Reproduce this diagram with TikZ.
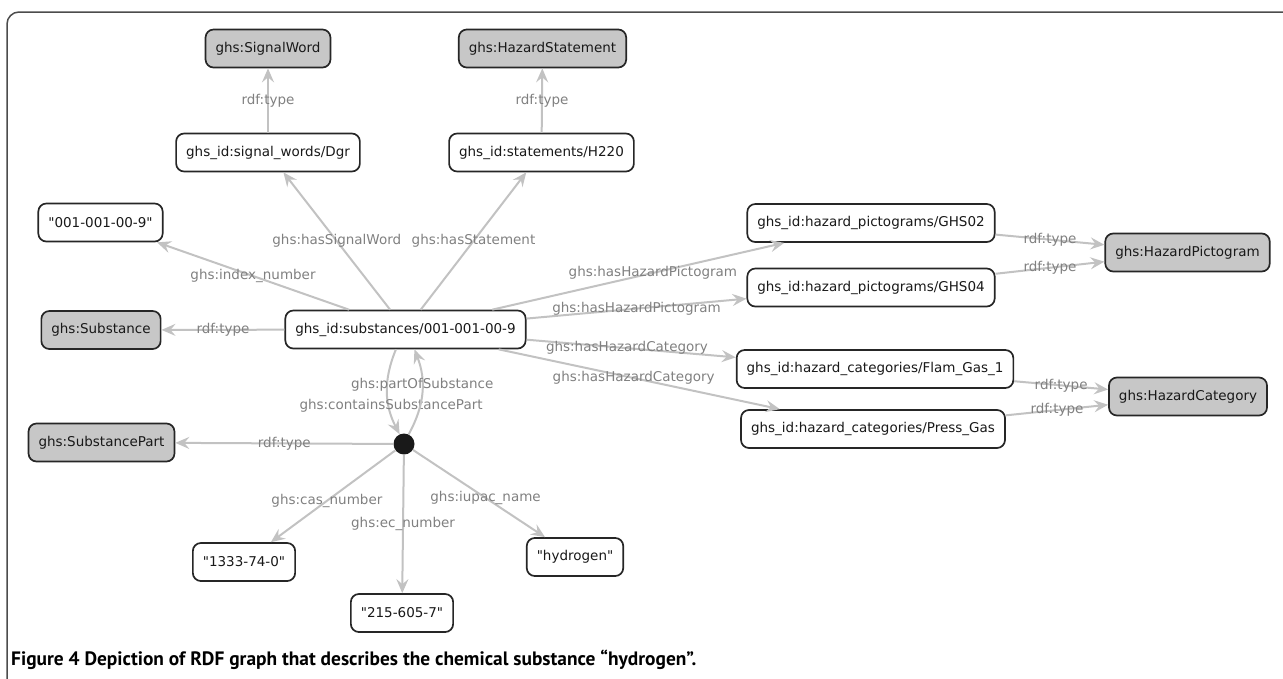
\documentclass[tikz,border=0pt]{standalone}
\usepackage{fontspec}
\newfontfamily\nodefont{DejaVu Sans}
\newfontfamily\capfont{PT Sans}
\usetikzlibrary{arrows.meta}
\begin{document}
\begin{tikzpicture}[x=1pt,y=-1pt,
  every node/.style={font=\nodefont\fontsize{13.5}{16}\selectfont},
  res/.style={draw=black!85, line width=1.7pt, rounded corners=8pt, fill=white,
    minimum height=38pt, inner xsep=10pt, text=black!90},
  cls/.style={res, fill=black!22},
  blank/.style={circle, fill=black!90, minimum size=21pt, inner sep=0pt},
  rel/.style={draw=black!24, line width=2pt,
    -{Stealth[length=14pt,width=12pt,inset=5pt]}},
  lbl/.style={text=black!50, inner sep=1pt}
]
\useasboundingbox (0,0) rectangle (1283,678);

% open frame around the figure
\draw[black!70, line width=1.5pt, rounded corners=12pt] (7,690) -- (7,12) -- (1295,12);

% classes and resources
\node[cls] (sw)      at (268,48.5)  {ghs:SignalWord};
\node[cls] (hs)      at (542.5,48.5) {ghs:HazardStatement};
\node[res] (dgr)     at (268,152.5) {ghs\_id:signal\_words/Dgr};
\node[res] (h220)    at (541.5,152.5) {ghs\_id:statements/H220};
\node[res] (idx)     at (100.5,222.5) {"001-001-00-9"};
\node[cls] (subcls)  at (101,330)   {ghs:Substance};
\node[res] (sub)     at (405.5,329.5) {ghs\_id:substances/001-001-00-9};
\node[cls] (partcls) at (101.5,442.5) {ghs:SubstancePart};
\node[blank] (bn)    at (404,444)   {};
\node[res] (cas)     at (244,562)   {"1333-74-0"};
\node[res] (ec)      at (402,613)   {"215-605-7"};
\node[res] (iupac)   at (575,557)   {"hydrogen"};
\node[res] (p02)     at (871,223)   {ghs\_id:hazard\_pictograms/GHS02};
\node[res] (p04)     at (871,287.5) {ghs\_id:hazard\_pictograms/GHS04};
\node[cls] (pcls)    at (1187.5,252.5) {ghs:HazardPictogram};
\node[res] (flam)    at (875,369)   {ghs\_id:hazard\_categories/Flam\_Gas\_1};
\node[res] (press)   at (873,429)   {ghs\_id:hazard\_categories/Press\_Gas};
\node[cls] (ccls)    at (1188,396.5) {ghs:HazardCategory};

% properties
\draw[rel] (dgr) -- node[lbl] {rdf:type} (sw);
\draw[rel] (h220) -- node[lbl] {rdf:type} (hs);
\draw[rel] (sub) -- node[lbl] {ghs:hasSignalWord} (dgr);
\draw[rel] (sub) -- node[lbl] {ghs:hasStatement} (h220);
\draw[rel] (sub) -- node[lbl] {ghs:index\_number} (idx);
\draw[rel] (sub) -- node[lbl] {rdf:type} (subcls);
\draw[rel] (sub) -- node[lbl, pos=0.55] {ghs:hasHazardPictogram} (p02);
\draw[rel] (sub) -- node[lbl, pos=0.5] {ghs:hasHazardPictogram} (p04);
\draw[rel] (sub) -- node[lbl, pos=0.48] {ghs:hasHazardCategory} (flam);
\draw[rel] (sub) -- node[lbl, pos=0.48] {ghs:hasHazardCategory} (press);
\draw[rel] (p02) -- node[lbl] {rdf:type} (pcls);
\draw[rel] (p04) -- node[lbl] {rdf:type} (pcls);
\draw[rel] (flam) -- node[lbl] {rdf:type} (ccls);
\draw[rel] (press) -- node[lbl] {rdf:type} (ccls);
\draw[rel] (sub) to[bend right=25] node[lbl, pos=0.67, xshift=2pt] {ghs:containsSubstancePart} (bn);
\draw[rel] (bn) to[bend right=25] node[lbl, pos=0.6] {ghs:partOfSubstance} (sub);
\draw[rel] (bn) -- node[lbl] {rdf:type} (partcls);
\draw[rel] (bn) -- node[lbl, pos=0.55] {ghs:cas\_number} (cas);
\draw[rel] (bn) -- node[lbl, pos=0.5] {ghs:ec\_number} (ec);
\draw[rel] (bn) -- node[lbl, pos=0.55] {ghs:iupac\_name} (iupac);

% caption
\node[anchor=base west, inner sep=0pt, text=black,
  font=\capfont\bfseries\fontsize{19.4}{23}\selectfont] (cap) at (11,665)
  {Figure 4 Depiction of RDF graph that describes the chemical substance “hydrogen”.};
\end{tikzpicture}
\end{document}
